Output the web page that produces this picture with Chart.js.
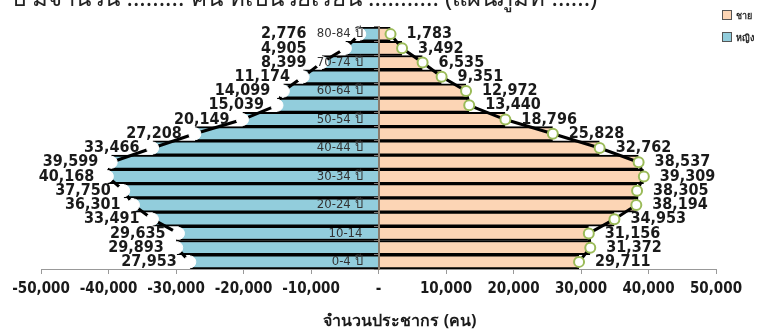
<!DOCTYPE html>
<html>
<head>
<meta charset="utf-8">
<script src="https://cdn.jsdelivr.net/npm/chart.js@4"></script>
<style>
  body { margin: 0; background: #fff; }
  #wrap { position: relative; width: 765px; height: 333px; overflow: hidden; }
  #topline { position: absolute; left: 11px; top: -22px; font: 24px "Noto Sans", sans-serif; color: #222; white-space: nowrap; }
  .lg { position: absolute; left: 722px; font: bold 9px "Noto Sans", sans-serif; color: #222; }
  .lg span { display: inline-block; width: 8px; height: 8px; border: 1px solid #555; margin-right: 4px; vertical-align: -1px; }
  #xtitle { position: absolute; left: 300px; width: 200px; top: 310px; text-align: center; font: bold 16px "Noto Sans", sans-serif; line-height: 20px; color: #1a1a1a; }
</style>
</head>
<body>
<div id="wrap">
  <div id="topline">ปี มีจำนวน ......... คน ที่เป็นวัยเรียน ........... (แผนภูมิที่ ......)</div>
  <div class="lg" style="top:9px"><span style="background:#fcd5b5"></span>ชาย</div>
  <div class="lg" style="top:31px"><span style="background:#92cddc"></span>หญิง</div>
  <canvas id="myChart" width="765" height="333"></canvas>
  <div id="xtitle">จำนวนประชากร (คน)</div>
</div>
<script>
// age groups, youngest first
var ageGroups = ['0-4 ปี', '5-9 ปี', '10-14', '15-19 ปี', '20-24 ปี', '25-29 ปี', '30-34 ปี', '35-39 ปี',
  '40-44 ปี', '45-49 ปี', '50-54 ปี', '55-59 ปี', '60-64 ปี', '65-69 ปี', '70-74 ปี', '75-79 ปี', '80-84 ปี'];
var female = [27953, 29893, 29635, 33491, 36301, 37750, 40168, 39599, 33466, 27208, 20149, 15039, 14099, 11174, 8399, 4905, 2776];
var male = [29711, 31372, 31156, 34953, 38194, 38305, 39309, 38537, 32762, 25828, 18796, 13440, 12972, 9351, 6535, 3492, 1783];
var xTicks = [-50000, -40000, -30000, -20000, -10000, 0, 10000, 20000, 30000, 40000, 50000];

var femaleLeft = female.map(function (v) { return -v; });
var numFont = '"Liberation Sans Narrow", "DejaVu Sans Condensed", sans-serif';

function fmt(v) {
  return Math.abs(v).toLocaleString('en-US');
}

// value labels next to the outline points; left ones stay clear of the age labels
var pointLabels = {
  id: 'pointLabels',
  afterDatasetsDraw: function (chart) {
    var c = chart.ctx;
    var zeroX = chart.scales.x.getPixelForValue(0);
    c.save();
    c.font = 'bold 16px ' + numFont;
    c.fillStyle = '#1a1a1a';
    c.textBaseline = 'middle';
    chart.data.datasets.forEach(function (ds, i) {
      if (ds.type !== 'line') return;
      var meta = chart.getDatasetMeta(i);
      meta.data.forEach(function (pt, j) {
        var v = ds.data[j];
        if (v < 0) {
          c.textAlign = 'right';
          c.fillText(fmt(v), Math.min(pt.x - 13, zeroX - 72), pt.y);
        } else {
          c.textAlign = 'left';
          c.fillText(fmt(v), pt.x + 16, pt.y);
        }
      });
    });
    c.restore();
  }
};

var ctx = document.getElementById('myChart').getContext('2d');
new Chart(ctx, {
  type: 'bar',
  data: {
    labels: ageGroups,
    datasets: [
      {
        type: 'line',
        label: 'หญิง (เส้น)',
        data: femaleLeft,
        borderColor: '#000',
        borderWidth: 3,
        pointRadius: 6,
        pointBackgroundColor: '#fff',
        pointBorderColor: '#fff',
        pointBorderWidth: 1,
        order: 0
      },
      {
        type: 'line',
        label: 'ชาย (เส้น)',
        data: male,
        borderColor: '#000',
        borderWidth: 3,
        pointRadius: 5,
        pointBackgroundColor: '#fff',
        pointBorderColor: '#9bbb59',
        pointBorderWidth: 2,
        order: 0
      },
      {
        label: 'หญิง',
        data: femaleLeft,
        backgroundColor: '#92cddc',
        borderColor: '#000',
        borderWidth: { top: 2, bottom: 2, left: 0, right: 0 },
        borderSkipped: false,
        grouped: false,
        barPercentage: 1,
        categoryPercentage: 1,
        order: 1
      },
      {
        label: 'ชาย',
        data: male,
        backgroundColor: '#fcd5b5',
        borderColor: '#000',
        borderWidth: { top: 2, bottom: 2, left: 0, right: 0 },
        borderSkipped: false,
        grouped: false,
        barPercentage: 1,
        categoryPercentage: 1,
        order: 1
      }
    ]
  },
  options: {
    indexAxis: 'y',
    responsive: false,
    animation: false,
    layout: { padding: { left: 41, right: 49, top: 27, bottom: 29 } },
    plugins: {
      legend: { display: false },
      tooltip: { enabled: false }
    },
    scales: {
      x: {
        min: -50000,
        max: 50000,
        afterBuildTicks: function (scale) {
          scale.ticks = xTicks.map(function (v) { return { value: v }; });
        },
        grid: { drawOnChartArea: false, tickLength: 5, color: '#999' },
        border: { color: '#999', width: 1 },
        ticks: {
          maxRotation: 0,
          autoSkip: false,
          color: '#1a1a1a',
          padding: 6,
          font: { family: numFont, weight: 'bold', size: 15 },
          callback: function (v) {
            if (v === 0) return '-';
            return (v < 0 ? '-' : '') + fmt(v);
          }
        }
      },
      y: {
        reverse: true,
        position: 'center',
        // age labels and the centre line sit on top of the bars
        grid: { drawOnChartArea: false, tickLength: 4, offset: true, color: '#777', z: 1 },
        border: { color: '#8c7b6b', width: 2, z: 1 },
        ticks: {
          z: 1,
          autoSkip: false,
          padding: 12,
          color: '#333',
          font: { family: numFont, size: 13 },
          callback: function (v, i) {
            return i % 2 === 0 ? ageGroups[i] : '';
          }
        }
      }
    }
  },
  plugins: [pointLabels]
});
</script>
</body>
</html>
